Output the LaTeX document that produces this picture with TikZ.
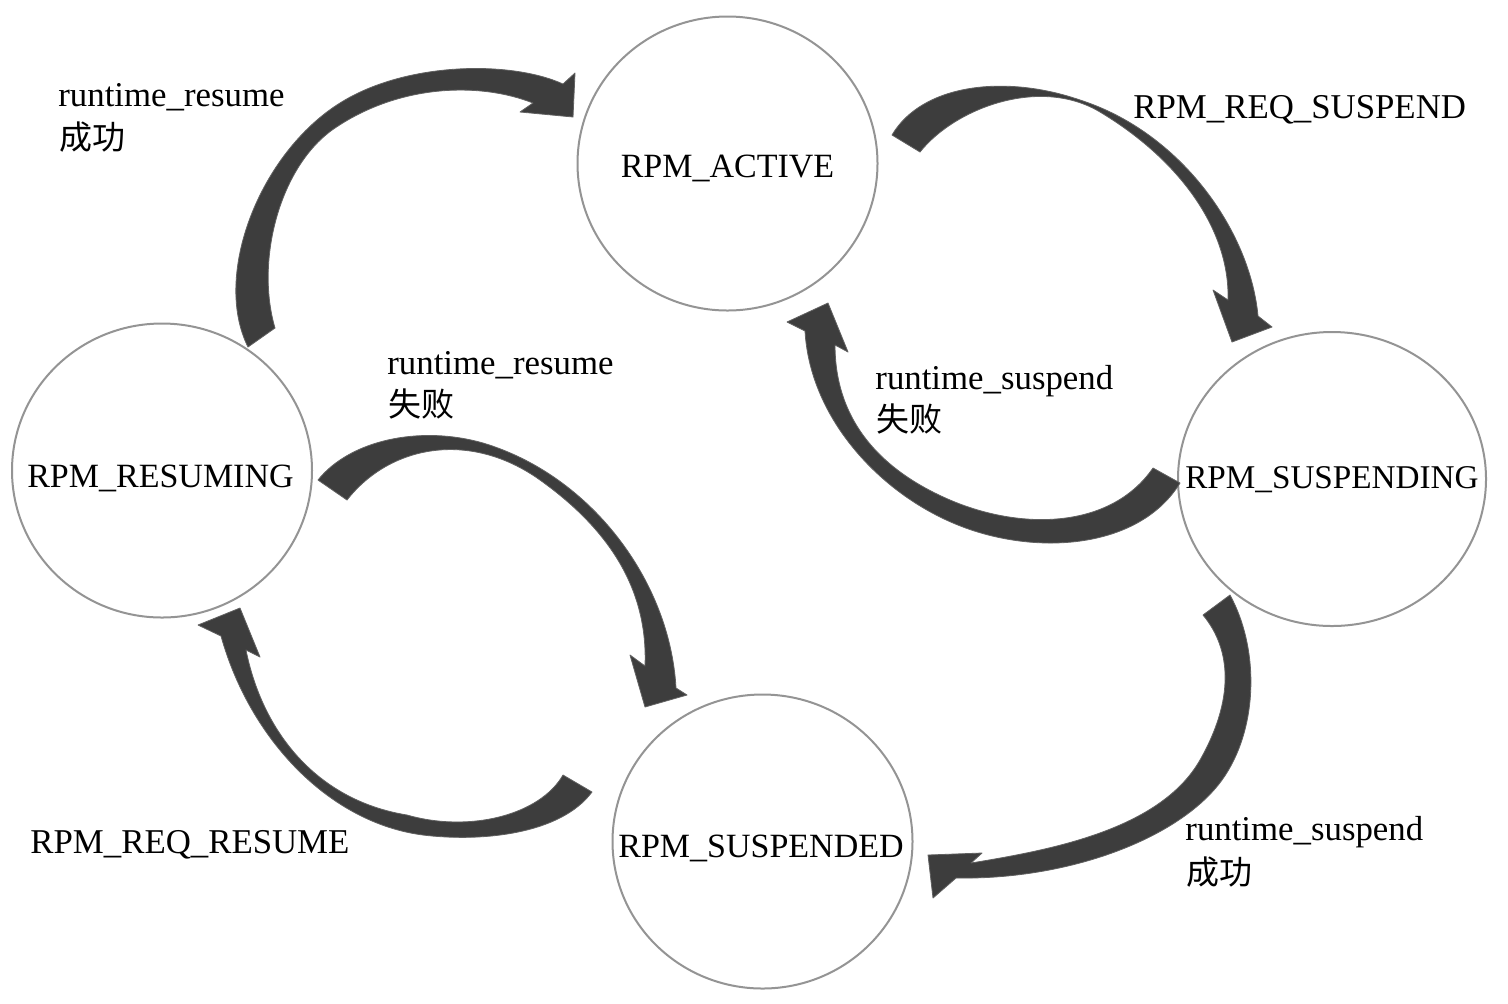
\documentclass[tikz,border=0pt]{standalone}
\usepackage{fontspec}
\setmainfont{Liberation Serif}
\newfontfamily\cjk{Noto Sans CJK SC}
\usetikzlibrary{shapes.geometric}
\tikzset{
  state/.style={ellipse, draw=black!42, line width=1pt, fill=white, minimum width=300pt*0.5, minimum height=294pt*0.5, inner sep=0pt},
  stlabel/.style={anchor=base, inner sep=0pt, font=\fontsize{17}{19}\selectfont},
  edlabel/.style={anchor=base west, inner sep=0pt, font=\fontsize{17.4}{19}\selectfont},
  cnlabel/.style={anchor=base west, inner sep=0pt, font=\fontsize{16.5}{19}\selectfont\cjk},
  bigarrow/.style={fill=black!76, draw=black!62, line width=0.4pt, line join=round}
}
\begin{document}
\begin{tikzpicture}[x=0.5pt, y=-0.5pt]
\useasboundingbox[fill=white] (0,0) rectangle (1508,1003);

% states
\node[state] (A) at (727.5,163.5) {};
\node[state] (R) at (162,470.5) {};
\node[state, minimum width=308pt*0.5] (G) at (1332,479) {};
\node[state] (D) at (762.5,841.5) {};

\node[stlabel] (tA) at (727.5,177) {RPM\_ACTIVE};
\node[stlabel] (tR) at (160.5,487) {RPM\_RESUMING};
\node[stlabel, font=\fontsize{16.6}{19}\selectfont] (tG) at (1332,488) {RPM\_SUSPENDING};
\node[stlabel] (tD) at (761,857) {RPM\_SUSPENDED};

% arrow 1: RESUMING -> ACTIVE
\fill[bigarrow] (248,347) .. controls (212,275) and (260,153) .. (340,103)
  .. controls (405,62) and (510,60) .. (563,84)
  -- (575,73) -- (573,117) -- (520,112) -- (533,103)
  .. controls (480,82) and (400,84) .. (335,128)
  .. controls (280,165) and (255,260) .. (275,328) -- cycle;

% arrow 2: ACTIVE -> SUSPENDING
\fill[bigarrow] (892,135) .. controls (922,84) and (1005,74) .. (1080,100)
  .. controls (1180,132) and (1250,230) .. (1258,316)
  -- (1272,327) -- (1232,342) -- (1213,290) -- (1228,300)
  .. controls (1230,230) and (1180,160) .. (1100,112)
  .. controls (1040,76) and (955,108) .. (920,152) -- cycle;

% arrow 3: SUSPENDING -> ACTIVE
\fill[bigarrow] (1180,483) .. controls (1140,548) and (1040,556) .. (963,527)
  .. controls (883,497) and (810,420) .. (805,331)
  -- (787,322) -- (828,303) -- (848,352) -- (835,345)
  .. controls (835,420) and (880,470) .. (950,500)
  .. controls (1020,530) and (1110,530) .. (1153,468) -- cycle;

% arrow 4: RESUMING -> SUSPENDED
\fill[bigarrow] (318,480) .. controls (350,440) and (420,425) .. (483,443)
  .. controls (590,475) and (670,580) .. (676,688)
  -- (687,695) -- (645,707) -- (630,655) -- (645,666)
  .. controls (648,590) and (610,530) .. (540,480)
  .. controls (470,430) and (390,445) .. (347,500) -- cycle;

% arrow 5: SUSPENDED -> RESUMING
\fill[bigarrow] (592,792) .. controls (560,835) and (480,842) .. (423,835)
  .. controls (330,823) and (250,740) .. (221,636)
  -- (198,625) -- (240,608) -- (260,657) -- (246,650)
  .. controls (262,730) and (315,800) .. (407,815)
  .. controls (470,833) and (540,815) .. (563,775) -- cycle;

% arrow 6: SUSPENDING -> SUSPENDED
\fill[bigarrow] (1230,595) .. controls (1260,650) and (1258,730) .. (1222,780)
  .. controls (1180,838) and (1070,880) .. (956,878)
  -- (933,898) -- (928,855) -- (982,853) -- (971,863)
  .. controls (1050,850) and (1160,830) .. (1200,760)
  .. controls (1234,700) and (1232,650) .. (1203,615) -- cycle;

% edge labels
\node[edlabel] (l1a) at (58,106) {runtime\_resume};
\node[cnlabel] (l1b) at (59,149) {成功};
\node[edlabel] (l2) at (1133,118) {RPM\_REQ\_SUSPEND};
\node[edlabel] (l3a) at (387,374) {runtime\_resume};
\node[cnlabel] (l3b) at (388,416) {失败};
\node[edlabel] (l4a) at (875,389) {runtime\_suspend};
\node[cnlabel] (l4b) at (876,431) {失败};
\node[edlabel] (l5) at (30,853) {RPM\_REQ\_RESUME};
\node[edlabel] (l6a) at (1185,840) {runtime\_suspend};
\node[cnlabel] (l6b) at (1186,884) {成功};
\end{tikzpicture}
\end{document}
